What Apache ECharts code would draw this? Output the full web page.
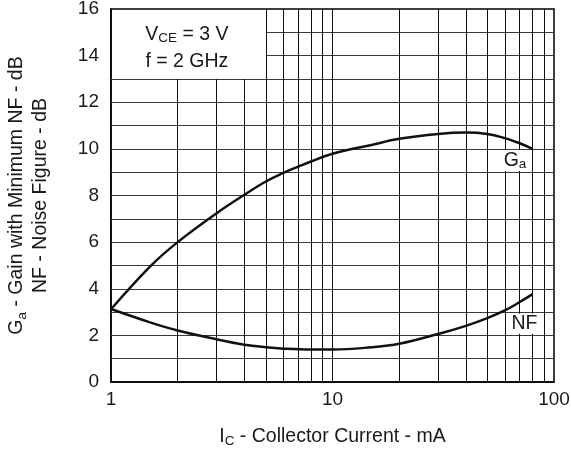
<!DOCTYPE html>
<html><head><meta charset="utf-8">
<script src="https://cdn.jsdelivr.net/npm/echarts@6/dist/echarts.min.js"></script>
<style>html,body{margin:0;padding:0;background:#fff}#c{width:571px;height:451px}</style>
</head><body><div id="c"></div>
<script>
const gaX = [1, 1.5, 2, 3, 4, 5, 6, 7, 8, 10, 15, 20, 30, 40, 50, 60, 70, 80];
const gaY = [3.12, 4.95, 6.0, 7.24, 8.03, 8.6, 8.97, 9.24, 9.46, 9.79, 10.17, 10.43, 10.64, 10.7, 10.64, 10.46, 10.24, 10.0];
const nfX = [1, 1.5, 2, 3, 4, 5, 6, 8, 10, 15, 20, 30, 40, 50, 60, 70, 80];
const nfY = [3.13, 2.56, 2.21, 1.83, 1.6, 1.49, 1.43, 1.39, 1.39, 1.49, 1.64, 2.06, 2.41, 2.74, 3.07, 3.43, 3.77];
const vGridLow = [2, 3, 4];
const vGridFull = [5, 6, 7, 8, 9, 10, 20, 30, 40, 50, 60, 70, 80, 90];
const hGridFull = [1,2,3,4,5,6,7,8,9,10,11,12,13];
const hGridShort = [14, 15];
const FONT = '"Liberation Sans", Arial, Helvetica, sans-serif';
const C = '#1a1a1a';

const lines = [];
vGridLow.forEach(v => lines.push([{coord:[v,0]},{coord:[v,13]}]));
vGridFull.forEach(v => lines.push([{coord:[v,0]},{coord:[v,16]}]));
const hlines = [];
hGridFull.forEach(v => hlines.push([{coord:[1,v]},{coord:[100,v]}]));
hGridShort.forEach(v => hlines.push([{coord:[5,v]},{coord:[100,v]}]));

const chart = echarts.init(document.getElementById('c'), null, {renderer:'canvas'});
chart.setOption({
  animation:false,
  textStyle:{fontFamily:FONT},
  grid:{left:111, top:9, right:17, bottom:69, containLabel:false, outerBoundsMode:'none',
    show:true, borderColor:'#000', borderWidth:1.5, backgroundColor:'transparent'},
  xAxis:{type:'log', logBase:10, min:1, max:100,
    axisLine:{show:true, lineStyle:{color:'#000', width:1.5}},
    axisTick:{show:false}, splitLine:{show:false},
    axisLabel:{color:C, fontSize:19, fontFamily:FONT, margin:8},
    name:'I{s|C} - Collector Current - mA', nameLocation:'middle', nameGap:44,
    nameTextStyle:{color:C, fontSize:19.5, fontFamily:FONT, lineHeight:22,
      rich:{s:{fontSize:13.5, fontFamily:FONT, color:C, verticalAlign:'bottom', lineHeight:18}}}
  },
  yAxis:{type:'value', min:0, max:16, interval:1,
    axisLine:{show:true, lineStyle:{color:'#000', width:1.5}},
    axisTick:{show:false}, splitLine:{show:false},
    axisLabel:{color:C, fontSize:19, fontFamily:FONT, margin:12, formatter:v => (v % 2 === 0 ? String(v) : '')},
    name:'G{s|a} - Gain with Minimum NF - dB\nNF - Noise Figure - dB', nameLocation:'middle', nameGap:58, nameRotate:90,
    nameTextStyle:{color:C, fontSize:19.5, fontFamily:FONT, lineHeight:24, align:'center',
      rich:{s:{fontSize:13.5, fontFamily:FONT, color:C, verticalAlign:'bottom', lineHeight:20}}}
  },
  series:[
    {type:'line', data:[], silent:true, z:1,
      markLine:{silent:true, symbol:'none', animation:false, label:{show:false},
        lineStyle:{color:'#3a3a3a', width:1, type:'solid'}, data: hlines}},
    {type:'line', data:[], silent:true, z:1,
      markLine:{silent:true, symbol:'none', animation:false, label:{show:false},
        lineStyle:{color:'#111', width:1, type:'solid'}, data: lines}},
    {name:'Ga', type:'line', smooth:0.4, showSymbol:false, symbol:'none', z:5,
      lineStyle:{color:'#111', width:2.5}, data: gaX.map((x,i)=>[x, gaY[i]]),
      markPoint:{symbol:'rect', symbolSize:1, itemStyle:{color:'transparent'}, silent:true,
        label:{show:true, position:'inside', formatter:'G{s|a}', color:C, fontSize:19.5, fontFamily:FONT, lineHeight:21,
          backgroundColor:'#fff', padding:[0,1,0,1],
          rich:{s:{fontSize:13.5, fontFamily:FONT, color:C, verticalAlign:'bottom', lineHeight:17}}},
        data:[{coord:[66.7, 9.5]}]}},
    {name:'NF', type:'line', smooth:0.4, showSymbol:false, symbol:'none', z:5,
      lineStyle:{color:'#111', width:2.5}, data: nfX.map((x,i)=>[x, nfY[i]]),
      markPoint:{symbol:'rect', symbolSize:1, itemStyle:{color:'transparent'}, silent:true,
        label:{show:true, position:'inside', formatter:'NF', color:C, fontSize:19.5, fontFamily:FONT,
          backgroundColor:'#fff', padding:[0,1,0,1]},
        data:[{coord:[73.6, 2.5]}]}},
    {type:'line', data:[], silent:true,
      markPoint:{symbol:'rect', symbolSize:1, itemStyle:{color:'transparent'}, silent:true,
        label:{show:true, position:'inside', color:C, fontSize:19.5, fontFamily:FONT, lineHeight:21,
          rich:{s:{fontSize:13.5, fontFamily:FONT, color:C, verticalAlign:'bottom', lineHeight:17}}},
        data:[{coord:[2.2, 14.9], label:{formatter:'V{s|CE} = 3 V'}},
              {coord:[2.2, 13.76], label:{formatter:'f = 2 GHz'}}]}}
  ]
});
</script></body></html>
